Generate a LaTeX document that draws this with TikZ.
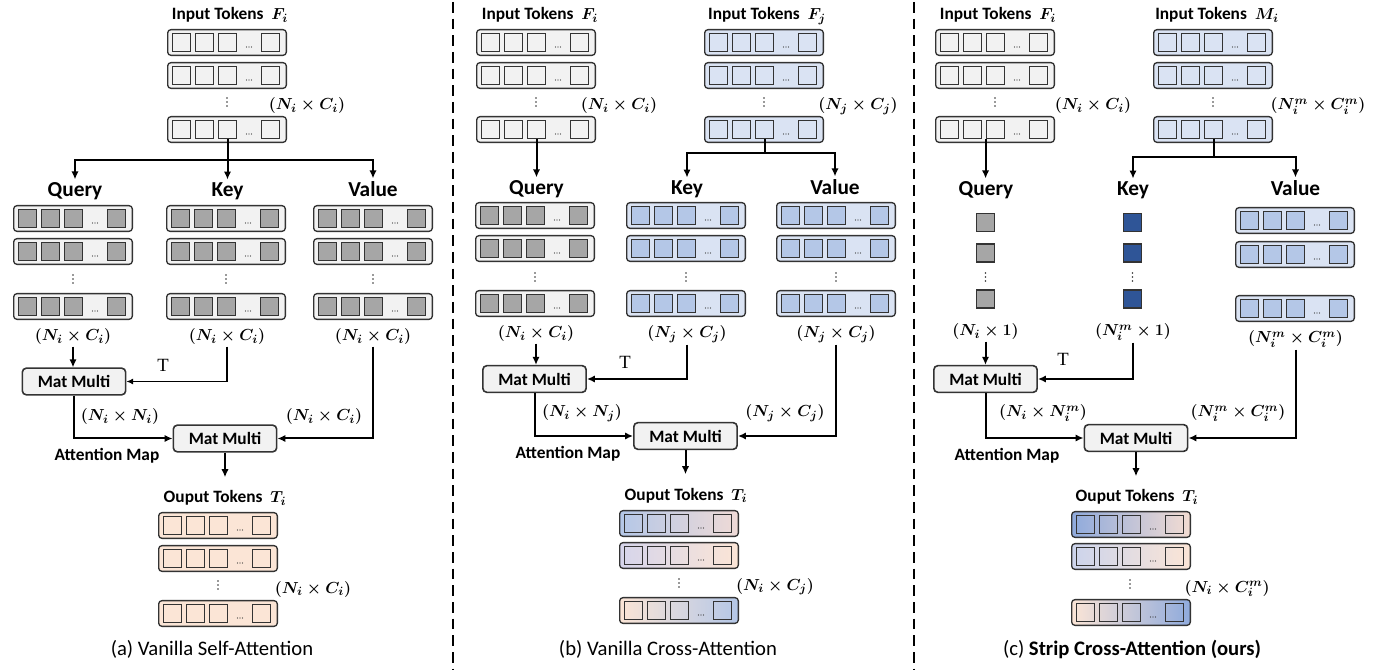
\documentclass[tikz,border=0pt]{standalone}
\usepackage{fontspec}
\setmainfont{Carlito}
\newfontfamily\serifT{Liberation Serif}
\usetikzlibrary{arrows.meta,calc}
\definecolor{bordc}{HTML}{333333}
\definecolor{gbg}{HTML}{F2F2F2}
\definecolor{qg}{HTML}{A6A6A6}
\definecolor{bbg}{HTML}{DAE3F3}
\definecolor{bsq}{HTML}{B4C7E7}
\definecolor{dkb}{HTML}{2F5597}
\definecolor{pch}{HTML}{FBE5D6}
\definecolor{bmid}{HTML}{8FAADC}
\definecolor{lavp}{HTML}{EFDAD6}
\definecolor{lavl}{HTML}{D6D5EB}
\definecolor{lavc}{HTML}{CCD4EC}
\definecolor{pchl}{HTML}{F3DCD2}
\tikzset{
 rowbox/.style={draw=bordc, line width=1pt, rounded corners=2.5pt, minimum width=89pt, minimum height=19.3pt, inner sep=0pt},
 sqbox/.style={draw=bordc, line width=1.3pt, minimum size=13.6pt, inner sep=0pt},
 mmbox/.style={draw=bordc, fill=gbg, line width=1.2pt, rounded corners=3pt, minimum width=77.5pt, minimum height=20pt, inner sep=0pt, font=\fontsize{13}{15}\selectfont\bfseries},
 hdr/.style={anchor=base, inner sep=1pt, font=\fontsize{13}{15}\selectfont\bfseries\boldmath},
 qkv/.style={anchor=base, inner sep=2.5pt, font=\fontsize{16}{18}\selectfont\bfseries},
 dim/.style={anchor=base, inner sep=1pt, font=\fontsize{12.5}{15}\selectfont\boldmath},
 capt/.style={anchor=base, inner sep=1pt, font=\fontsize{15.5}{18}\selectfont},
 tlab/.style={anchor=base, inner sep=1pt, font=\fontsize{14}{16}\selectfont\serifT},
 arr/.style={line width=1.5pt, draw=black, -{Latex[length=6pt,width=5.5pt]}},
 ln/.style={line width=1.5pt, draw=black},
 thinarr/.style={line width=0.8pt, draw=black, -{Latex[length=5pt,width=4.5pt]}},
 sepline/.style={line width=1.6pt, dash pattern=on 8pt off 4.5pt},
 gb1/.style={left color=bsq, right color=lavp},
 gb2/.style={left color=lavl, right color=pch},
 gb3/.style={left color=pch, right color=bsq},
 gc1/.style={left color=bmid, right color=pchl},
 gc2/.style={left color=lavc, right color=pch},
 gc3/.style={left color=pch, right color=bmid},
}
\newcommand\rowdots[2]{\fill[bordc] ({#1-2.5},#2) circle (0.55pt) ({#1},#2) circle (0.55pt) ({#1+2.5},#2) circle (0.55pt);}
\newcommand\vdts[2]{\fill[bordc] (#1,{#2-4}) circle (0.6pt) (#1,#2) circle (0.6pt) (#1,{#2+4}) circle (0.6pt);}
\newcommand\tokrow[5]{%
  \node[rowbox,#4] (#1) at ({#2+60},{#3+13.5}) {};
  \node[sqbox,#5] (#1-1) at ({#2+14.5},{#3+13.5}) {};
  \node[sqbox,#5] (#1-2) at ({#2+37.5},{#3+13.5}) {};
  \node[sqbox,#5] (#1-3) at ({#2+60.5},{#3+13.5}) {};
  \node[sqbox,#5] (#1-4) at ({#2+103.5},{#3+13.5}) {};
  \rowdots{#2+82}{#3+18}%
}
\begin{document}
\begin{tikzpicture}[x=0.75pt,y=-0.75pt]
\useasboundingbox (0,0) rectangle (1390,670);
% separators
\draw[sepline] (453,2) -- (453,670);
\draw[sepline] (914,2) -- (914,670);

%%%%%%%%%%%%%%%% (a)
\node[hdr] (aih) at (230,20) {Input Tokens\hspace{3pt} $F_i$};
\tokrow{ai1}{167}{29}{fill=gbg}{fill=gbg}
\tokrow{ai2}{167}{62}{fill=gbg}{fill=gbg}
\vdts{227}{102}
\tokrow{ai3}{167}{116}{fill=gbg}{fill=gbg}
\node[dim] (aid) at (307,110) {$(N_i\times C_i)$};

\node[qkv] (aq) at (75,197) {Query};
\node[qkv] (ak) at (227.5,197) {Key};
\node[qkv] (av) at (373,197) {Value};
\coordinate (aj) at (227.5,160);
\draw[arr] (ai3-3.south) -- (ai3-3.south |- ak.north);
\draw[arr] (aj) -| (aq.north);
\draw[arr] (aj) -| (av.north);

\tokrow{aq1}{13}{205}{fill=gbg}{fill=qg}
\tokrow{aq2}{13}{238}{fill=gbg}{fill=qg}
\vdts{73}{279}
\tokrow{aq3}{13}{293}{fill=gbg}{fill=qg}
\tokrow{ak1}{166}{205}{fill=gbg}{fill=qg}
\tokrow{ak2}{166}{238}{fill=gbg}{fill=qg}
\vdts{226}{279}
\tokrow{ak3}{166}{293}{fill=gbg}{fill=qg}
\tokrow{av1}{313}{205}{fill=gbg}{fill=qg}
\tokrow{av2}{313}{238}{fill=gbg}{fill=qg}
\vdts{373}{279}
\tokrow{av3}{313}{293}{fill=gbg}{fill=qg}

\node[dim] (aql) at (73,341) {$(N_i\times C_i)$};
\node[dim] (akl) at (227,341) {$(N_i\times C_i)$};
\node[dim] (avl) at (373,341) {$(N_i\times C_i)$};

\node[mmbox] (amm1) at (74,381.5) {Mat Multi};
\node[mmbox] (amm2) at (225,438.5) {Mat Multi};
\node[tlab] (at) at (163,372) {T};
\draw[arr] (aql.south) -- (aql.south |- amm1.north);
\draw[thinarr] (akl.south) |- (amm1.east);
\draw[arr] (amm1.south) |- (amm2.west);
\draw[arr] (avl.south) |- (amm2.east);
\node[dim] (ann) at (120,421) {$(N_i\times N_i)$};
\node[dim] (anc) at (324,421) {$(N_i\times C_i)$};
\node[hdr] (aam) at (107,460) {Attention Map};

\node[hdr] (aoh) at (225,503) {Ouput Tokens\hspace{3pt} $T_i$};
\draw[arr, shorten >=9pt] (amm2.south) -- (amm2.south |- aoh.north);
\tokrow{ao1}{158}{512}{fill=pch}{fill=pch}
\tokrow{ao2}{158}{545}{fill=pch}{fill=pch}
\vdts{218}{585}
\tokrow{ao3}{158}{600}{fill=pch}{fill=pch}
\node[dim] (aod) at (313,593) {$(N_i\times C_i)$};
\node[capt] (acap) at (212,655) {(a) Vanilla Self-Attention};

%%%%%%%%%%%%%%%% (b)
\node[hdr] (bih) at (540,20) {Input Tokens\hspace{3pt} $F_i$};
\tokrow{bi1}{476}{29}{fill=gbg}{fill=gbg}
\tokrow{bi2}{476}{62}{fill=gbg}{fill=gbg}
\vdts{536}{102}
\tokrow{bi3}{476}{116}{fill=gbg}{fill=gbg}
\node[dim] (bid) at (619,110) {$(N_i\times C_i)$};

\node[hdr] (bjh) at (767,20) {Input Tokens\hspace{3pt} $F_j$};
\tokrow{bj1}{704}{29}{fill=bbg}{fill=bbg}
\tokrow{bj2}{704}{62}{fill=bbg}{fill=bbg}
\vdts{764}{102}
\tokrow{bj3}{704}{116}{fill=bbg}{fill=bbg}
\node[dim] (bjd) at (858,110) {$(N_j\times C_j)$};

\node[qkv] (bq) at (536.5,195) {Query};
\node[qkv] (bk) at (687,195) {Key};
\node[qkv] (bv) at (835,195) {Value};
\draw[arr] (bi3-3.south) -- (bi3-3.south |- bq.north);
\coordinate (bj) at (764.5,153);
\draw[ln] (bj3-3.south) -- (bj);
\draw[arr] (bj) -| (bk.north);
\draw[arr] (bj) -| (bv.north);

\tokrow{bq1}{475}{202}{fill=gbg}{fill=qg}
\tokrow{bq2}{475}{235}{fill=gbg}{fill=qg}
\vdts{535}{277}
\tokrow{bq3}{475}{290}{fill=gbg}{fill=qg}
\tokrow{bk1}{626}{202}{fill=bbg}{fill=bsq}
\tokrow{bk2}{626}{235}{fill=bbg}{fill=bsq}
\vdts{686}{277}
\tokrow{bk3}{626}{290}{fill=bbg}{fill=bsq}
\tokrow{bv1}{776}{202}{fill=bbg}{fill=bsq}
\tokrow{bv2}{776}{235}{fill=bbg}{fill=bsq}
\vdts{836}{277}
\tokrow{bv3}{776}{290}{fill=bbg}{fill=bsq}

\node[dim] (bql) at (536,338) {$(N_i\times C_i)$};
\node[dim] (bkl) at (687,338) {$(N_j\times C_j)$};
\node[dim] (bvl) at (836,338) {$(N_j\times C_j)$};

\node[mmbox] (bmm1) at (534.5,379) {Mat Multi};
\node[mmbox] (bmm2) at (685.5,436) {Mat Multi};
\node[tlab] (bt) at (625,369) {T};
\draw[arr] (bql.south) -- (bql.south |- bmm1.north);
\draw[arr] (bkl.south) |- (bmm1.east);
\draw[arr] (bmm1.south) |- (bmm2.west);
\draw[arr] (bvl.south) |- (bmm2.east);
\node[dim] (bnn) at (582,417) {$(N_i\times N_j)$};
\node[dim] (bnc) at (785,417) {$(N_j\times C_j)$};
\node[hdr] (bam) at (568,459) {Attention Map};

\node[hdr] (boh) at (686,500) {Ouput Tokens\hspace{3pt} $T_i$};
\draw[arr, shorten >=9pt] (bmm2.south) -- (bmm2.south |- boh.north);
\tokrow{bo1}{619}{510}{gb1}{}
\tokrow{bo2}{619}{542}{gb2}{}
\vdts{679}{583}
\tokrow{bo3}{619}{597}{gb3}{}
\node[dim] (bod) at (775,590) {$(N_i\times C_j)$};
\node[capt] (bcap) at (668,655) {(b) Vanilla Cross-Attention};

%%%%%%%%%%%%%%%% (c)
\node[hdr] (cih) at (998,20) {Input Tokens\hspace{3pt} $F_i$};
\tokrow{ci1}{935}{29}{fill=gbg}{fill=gbg}
\tokrow{ci2}{935}{62}{fill=gbg}{fill=gbg}
\vdts{995}{102}
\tokrow{ci3}{935}{116}{fill=gbg}{fill=gbg}
\node[dim] (cid) at (1093,110) {$(N_i\times C_i)$};

\node[hdr] (cmh) at (1217,20) {Input Tokens\hspace{3pt} $M_i$};
\tokrow{cm1}{1153}{29}{fill=bbg}{fill=bbg}
\tokrow{cm2}{1153}{62}{fill=bbg}{fill=bbg}
\vdts{1213}{102}
\tokrow{cm3}{1153}{116}{fill=bbg}{fill=bbg}
\node[dim] (cmd) at (1318,110) {$(N_i^m\times C_i^m)$};

\node[qkv] (cq) at (986,196) {Query};
\node[qkv] (ck) at (1133,196) {Key};
\node[qkv] (cv) at (1295.5,196) {Value};
\draw[arr] (ci3-3.south west) -- (ci3-3.south west |- cq.north);
\coordinate (cj) at (1213.5,157);
\draw[ln] (cm3-3.south) -- (cj);
\draw[arr] (cj) -| (ck.north);
\draw[arr] (cj) -| (cv.north);

\node[sqbox,fill=qg] (cq1) at (985.5,222.5) {};
\node[sqbox,fill=qg] (cq2) at (985.5,253) {};
\vdts{985.5}{277}
\node[sqbox,fill=qg] (cq3) at (985.5,299) {};
\node[sqbox,fill=dkb] (ck1) at (1132.5,222.5) {};
\node[sqbox,fill=dkb] (ck2) at (1132.5,253) {};
\vdts{1132.5}{277}
\node[sqbox,fill=dkb] (ck3) at (1132.5,299) {};
\tokrow{cv1}{1235}{207}{fill=bbg}{fill=bsq}
\tokrow{cv2}{1235}{241}{fill=bbg}{fill=bsq}
\tokrow{cv3}{1235}{295}{fill=bbg}{fill=bsq}

\node[dim] (cql) at (985.5,336) {$(N_i\times 1)$};
\node[dim] (ckl) at (1133,336) {$(N_i^m\times 1)$};
\node[dim] (cvl) at (1295.5,343) {$(N_i^m\times C_i^m)$};

\node[mmbox] (cmm1) at (985.5,379) {Mat Multi};
\node[mmbox] (cmm2) at (1136,438) {Mat Multi};
\node[tlab] (ct) at (1063,366) {T};
\draw[arr] (cql.south) -- (cql.south |- cmm1.north);
\draw[arr] (ckl.south) |- (cmm1.east);
\draw[arr] (cmm1.south) |- (cmm2.west);
\draw[arr] (cvl.south) |- (cmm2.east);
\node[dim] (cnn) at (1043,417) {$(N_i\times N_i^m)$};
\node[dim] (cnc) at (1238,417) {$(N_i^m\times C_i^m)$};
\node[hdr] (cam) at (1007,460) {Attention Map};

\node[hdr] (coh) at (1137,502) {Ouput Tokens\hspace{3pt} $T_i$};
\draw[arr, shorten >=9pt] (cmm2.south) -- (cmm2.south |- coh.north);
\tokrow{co1}{1071}{511}{gc1}{}
\tokrow{co2}{1071}{543}{gc2}{}
\vdts{1130}{584}
\tokrow{co3}{1071}{599}{gc3}{}
\node[dim] (cod) at (1227,592) {$(N_i\times C_i^m)$};
\node[capt] (ccap) at (1132,655) {(c) \textbf{Strip Cross-Attention (ours)}};
\end{tikzpicture}
\end{document}
